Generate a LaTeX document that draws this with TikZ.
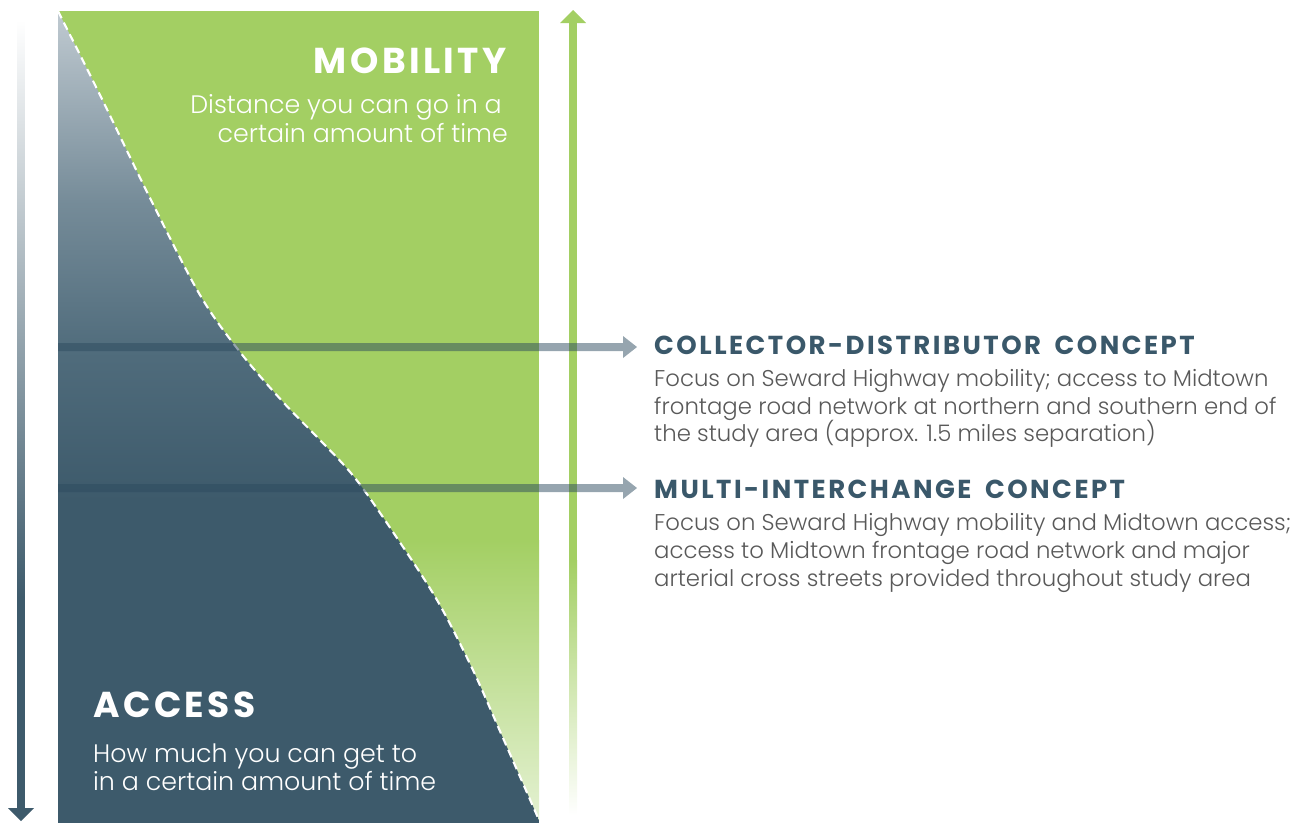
\documentclass[tikz,border=0pt]{standalone}
\usepackage{fontspec}
\usetikzlibrary{calc}
\IfFontExistsTF{Poppins Light}{\newfontfamily\bodyfont{Poppins Light}}{\newfontfamily\bodyfont{Poppins}}
\newfontfamily\headfont[LetterSpace=9.5,WordSpace=1.7]{Poppins}
\definecolor{mgreen}{RGB}{163,207,99}
\definecolor{palegreen}{RGB}{228,241,210}
\definecolor{slate}{RGB}{61,90,107}
\definecolor{slatetop}{RGB}{192,202,209}
\definecolor{slatemid}{RGB}{118,140,153}
\definecolor{slatelow}{RGB}{80,108,124}
\definecolor{harrowc}{RGB}{45,75,95}
\definecolor{titlec}{RGB}{58,88,106}
\definecolor{bodyc}{RGB}{89,89,89}
\tikzset{
  bigtitle/.style={font=\headfont\bfseries\fontsize{36}{40}\selectfont, text=white, inner sep=0pt},
  bigbody/.style={font=\bodyfont\fontsize{25.3}{29}\selectfont, text=white, inner sep=0pt},
  contitle/.style={font=\headfont\bfseries\fontsize{26}{30}\selectfont, text=titlec, inner sep=0pt, anchor=base west},
  conbody/.style={font=\bodyfont\fontsize{22.8}{27}\selectfont, text=bodyc, inner sep=0pt, anchor=base west},
  harrow/.style={fill=harrowc, fill opacity=0.5},
  curveline/.style={draw=white, line width=2.1pt, dash pattern=on 8pt off 5pt}
}
\begin{document}
\begin{tikzpicture}[x=1pt,y=-1pt]
\useasboundingbox (0,0) rectangle (1305,823);
% green mobility region
\fill[mgreen] (58,11) rectangle (539,820);
\shade[top color=mgreen, bottom color=palegreen] (58,540) rectangle (539,820);
% access region
\begin{scope}
  \clip plot[smooth,tension=0.55] coordinates {(58,11) (100,95) (150,198) (200,295) (240,352) (283,402) (320,440) (355,478) (395,535) (437,600) (472,668) (503,738) (539,820)} -- (539,823) -- (58,823) -- cycle;
  \shade[top color=slatetop, bottom color=slatemid] (58,11) rectangle (539,201);
  \shade[top color=slatemid, bottom color=slatelow] (58,200) rectangle (539,351);
  \shade[top color=slatelow, bottom color=slate] (58,350) rectangle (539,501);
  \fill[slate] (58,500) rectangle (539,823);
\end{scope}
\draw[curveline] plot[smooth,tension=0.55] coordinates {(58,11) (100,95) (150,198) (200,295) (240,352) (283,402) (320,440) (355,478) (395,535) (437,600) (472,668) (503,738) (539,820)};
% left vertical arrow (access)
\coordinate (la) at (21,20);
\coordinate (lb) at (21,821);
\shade[top color=white, bottom color=slate] ($(la)+(-3.7,0)$) rectangle ($(la)+(3.7,581)$);
\fill[slate] ($(la)+(-3.7,580)$) rectangle ($(lb)+(3.7,-13)$);
\fill[slate] ($(lb)+(-13,-13)$) -- (lb) -- ($(lb)+(13,-13)$) -- cycle;
% right vertical arrow (mobility)
\coordinate (ra) at (573,815);
\coordinate (rb) at (573,10);
\fill[mgreen] ($(rb)+(-4,13)$) rectangle ($(rb)+(4,551)$);
\shade[top color=mgreen, bottom color=white] ($(rb)+(-4,550)$) rectangle ($(ra)+(4,0)$);
\fill[mgreen] ($(rb)+(-13,13)$) -- (rb) -- ($(rb)+(13,13)$) -- cycle;
% concept texts
\node[contitle] (cdt) at (654,354) {COLLECTOR-DISTRIBUTOR CONCEPT};
\node[conbody] (cd1) at (654,386) {Focus on Seward Highway mobility; access to Midtown};
\node[conbody] (cd2) at (654,414) {frontage road network at northern and southern end of};
\node[conbody] (cd3) at (654,441) {the study area (approx. 1.5 miles separation)};
\node[contitle] (mit) at (654,498) {MULTI-INTERCHANGE CONCEPT};
\node[conbody] (mi1) at (654,530) {Focus on Seward Highway mobility and Midtown access;};
\node[conbody] (mi2) at (654,558) {access to Midtown frontage road network and major};
\node[conbody] (mi3) at (654,586) {arterial cross streets provided throughout study area};
% horizontal arrows
\coordinate (h1s) at (58,347);
\coordinate (h1e) at (637,347);
\coordinate (h2s) at (58,488);
\coordinate (h2e) at (637,488);
\fill[harrow] ($(h1s)+(0,-4)$) -- ($(h1e)+(-14,-4)$) -- ($(h1e)+(-14,-11)$) -- (h1e) -- ($(h1e)+(-14,11)$) -- ($(h1e)+(-14,4)$) -- ($(h1s)+(0,4)$) -- cycle;
\fill[harrow] ($(h2s)+(0,-4)$) -- ($(h2e)+(-14,-4)$) -- ($(h2e)+(-14,-11)$) -- (h2e) -- ($(h2e)+(-14,11)$) -- ($(h2e)+(-14,4)$) -- ($(h2s)+(0,4)$) -- cycle;
% region labels
\node[bigtitle, anchor=base east] (mob) at (507,73) {MOBILITY};
\node[bigbody, anchor=base east] (mob1) at (502,113) {Distance you can go in a};
\node[bigbody, anchor=base east] (mob2) at (508,142) {certain amount of time};
\node[bigtitle, anchor=base west] (acc) at (93,717) {ACCESS};
\node[bigbody, anchor=base west] (acc1) at (93,762) {How much you can get to};
\node[bigbody, anchor=base west] (acc2) at (93,790) {in a certain amount of time};
\end{tikzpicture}
\end{document}
